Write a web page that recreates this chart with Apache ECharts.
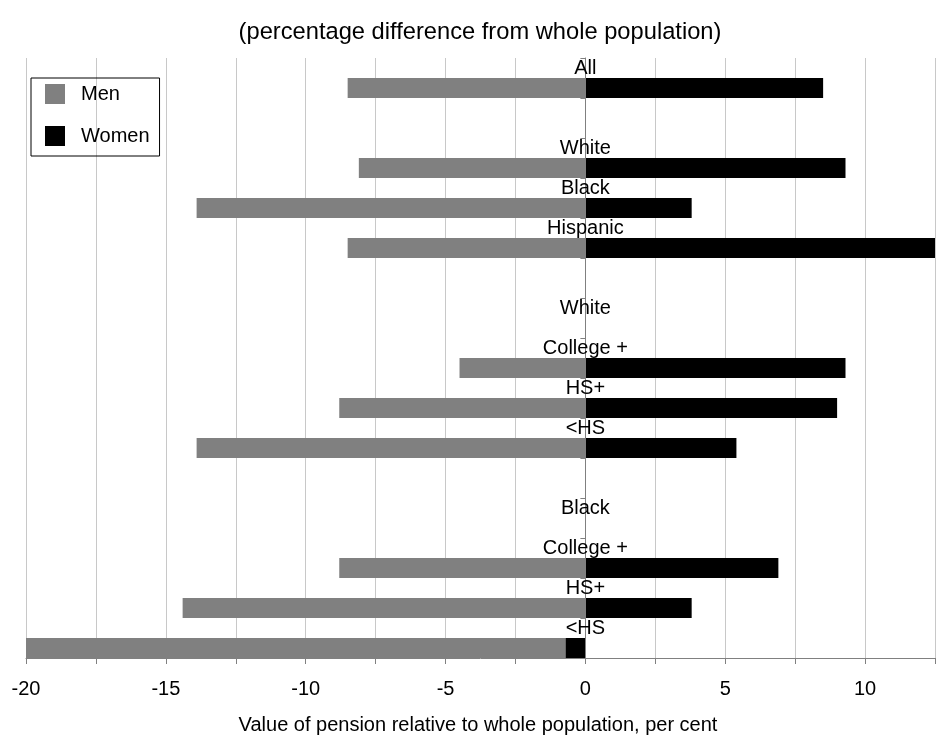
<!DOCTYPE html>
<html>
<head>
<meta charset="utf-8">
<script src="https://cdn.jsdelivr.net/npm/echarts@6/dist/echarts.min.js"></script>
<style>
html,body{margin:0;padding:0;background:#fff;}
#chart{width:945px;height:736px;}
</style>
</head>
<body>
<div id="chart"></div>
<script>
// ---- data ----
var categories = ['All', '', 'White', 'Black', 'Hispanic', '', 'White', 'College +', 'HS+', '<HS', '', 'Black', 'College +', 'HS+', '<HS'];
var menValues = [-8.5, null, -8.1, -13.9, -8.5, null, null, -4.5, -8.8, -13.9, null, null, -8.8, -14.4, -20];
var womenValues = [8.5, null, 9.3, 3.8, 12.8, null, null, 9.3, 9.0, 5.4, null, null, 6.9, 3.8, -0.7];
var seriesNames = ['Men', 'Women'];
var xMin = -20, xMax = 12.5, xStep = 2.5;
var titleText = '(percentage difference from whole population)';
var xTitleText = 'Value of pension relative to whole population, per cent';

var FONT = "'Liberation Sans', Arial, sans-serif";
var GRID_LEFT = 26, GRID_RIGHT = 10, W = 945;
var plotWidth = W - GRID_LEFT - GRID_RIGHT;
// place the category axis at the zero of the value axis
var zeroOffset = -((0 - xMin) / (xMax - xMin)) * plotWidth;

var chart = echarts.init(document.getElementById('chart'), null, {renderer: 'canvas'});

var option = {
  backgroundColor: '#fff',
  animation: false,
  title: [
    {text: titleText, left: 480, top: 20, textAlign: 'center', padding: 0,
     textStyle: {fontFamily: FONT, fontSize: 23.7, fontWeight: 'normal', color: '#000'}},
    {text: xTitleText, left: 478, top: 715, textAlign: 'center', padding: 0,
     textStyle: {fontFamily: FONT, fontSize: 20, fontWeight: 'normal', color: '#000'}}
  ],
  legend: {
    orient: 'vertical', left: 31, top: 78,
    padding: [6, 10, 10, 14],
    itemWidth: 20, itemHeight: 20, itemGap: 22,
    borderColor: '#000', borderWidth: 1,
    icon: 'rect',
    data: seriesNames,
    textStyle: {fontFamily: FONT, fontSize: 20, color: '#000', padding: [0, 0, 0, 11]}
  },
  grid: [
    {left: GRID_LEFT, right: GRID_RIGHT, top: 58, bottom: 78, containLabel: false, outerBoundsMode: 'none'},
    {left: GRID_LEFT, right: GRID_RIGHT, top: 68, bottom: 68, containLabel: false, outerBoundsMode: 'none'}
  ],
  xAxis: [
    {type: 'value', gridIndex: 0, min: xMin, max: xMax, interval: xStep,
     axisLine: {show: true, onZero: false, lineStyle: {color: '#808080', width: 1}},
     axisTick: {show: true, length: 6, lineStyle: {color: '#808080'}},
     splitLine: {show: true, lineStyle: {color: '#c8c8c8', width: 1}},
     axisLabel: {fontFamily: FONT, fontSize: 20, color: '#000', margin: 21,
       formatter: function (v) { return (Math.abs(v % 5) < 1e-9) ? String(v) : ''; }}},
    {type: 'value', gridIndex: 1, min: xMin, max: xMax, interval: xStep, show: false,
     splitLine: {show: false}}
  ],
  yAxis: [
    {type: 'category', gridIndex: 0, data: categories, inverse: true, z: 10,
     position: 'left', offset: zeroOffset,
     axisLine: {show: true, onZero: false, lineStyle: {color: '#808080', width: 1}},
     axisTick: {show: true, length: 5, lineStyle: {color: '#808080'}},
     splitLine: {show: false},
     axisLabel: {interval: 0, align: 'center', margin: 0, fontFamily: FONT, fontSize: 20,
       color: '#000', verticalAlign: 'bottom', lineHeight: 20}},
    {type: 'category', gridIndex: 1, data: categories, inverse: true, show: false}
  ],
  series: [
    {name: seriesNames[0], type: 'bar', xAxisIndex: 1, yAxisIndex: 1, data: menValues,
     barWidth: 20, barGap: '-100%', clip: true, itemStyle: {color: '#808080'}},
    {name: seriesNames[1], type: 'bar', xAxisIndex: 1, yAxisIndex: 1, data: womenValues,
     barWidth: 20, barGap: '-100%', clip: true, itemStyle: {color: '#000000'}}
  ]
};
chart.setOption(option);
</script>
</body>
</html>
